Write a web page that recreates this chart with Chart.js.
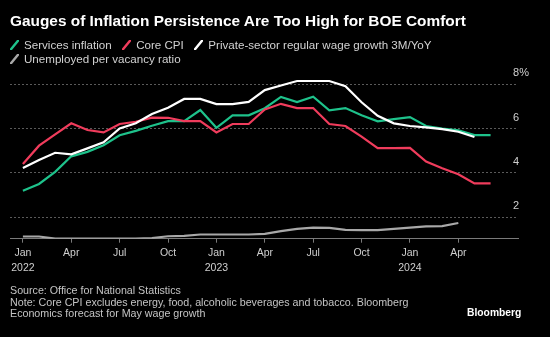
<!DOCTYPE html>
<html>
<head>
<meta charset="utf-8">
<script src="https://cdn.jsdelivr.net/npm/chart.js@4.4.1/dist/chart.umd.min.js"></script>
<style>
html,body{margin:0;padding:0;background:#000;}
#wrap{position:relative;width:550px;height:337px;overflow:hidden;background:#000;font-family:'Liberation Sans',Arial,sans-serif;}
#c{position:absolute;left:0;top:0;}
.title{position:absolute;left:10px;top:11px;font-weight:bold;font-size:15.4px;color:#fff;line-height:19px;white-space:nowrap;}
.legend{position:absolute;left:10px;font-size:11.6px;color:#d2d2d2;white-space:nowrap;display:flex;align-items:center;line-height:14px;}
.item{display:flex;align-items:center;margin-right:10.5px;}
.sw{width:9px;height:10px;margin-right:5px;display:block;}
.foot{position:absolute;left:10px;top:285px;font-size:10.7px;line-height:11.7px;color:#c4c4c4;white-space:nowrap;}
.brand{position:absolute;left:467px;top:307px;font-weight:bold;font-size:10.3px;line-height:12px;color:#fff;}
</style>
</head>
<body>
<div id="wrap">
  <canvas id="c" width="550" height="337"></canvas>
  <div class="title">Gauges of Inflation Persistence Are Too High for BOE Comfort</div>
  <div class="legend" style="top:38px">
    <span class="item"><svg class="sw" viewBox="0 0 9 10"><line x1="1" y1="9.3" x2="8" y2="0.7" stroke="#1ec28b" stroke-width="2.4" stroke-linecap="round"/></svg>Services inflation</span>
    <span class="item"><svg class="sw" viewBox="0 0 9 10"><line x1="1" y1="9.3" x2="8" y2="0.7" stroke="#f03c5c" stroke-width="2.4" stroke-linecap="round"/></svg>Core CPI</span>
    <span class="item"><svg class="sw" viewBox="0 0 9 10"><line x1="1" y1="9.3" x2="8" y2="0.7" stroke="#ffffff" stroke-width="2.4" stroke-linecap="round"/></svg>Private-sector regular wage growth 3M/YoY</span>
  </div>
  <div class="legend" style="top:52.3px">
    <span class="item"><svg class="sw" viewBox="0 0 9 10"><line x1="1" y1="9.3" x2="8" y2="0.7" stroke="#a8a8a8" stroke-width="2.4" stroke-linecap="round"/></svg>Unemployed per vacancy ratio</span>
  </div>
  <div class="foot">Source: Office for National Statistics<br>Note: Core CPI excludes energy, food, alcoholic beverages and tobacco. Bloomberg<br>Economics forecast for May wage growth</div>
  <div class="brand">Bloomberg</div>
</div>
<script>
const months = ['Jan 2022','Feb 2022','Mar 2022','Apr 2022','May 2022','Jun 2022','Jul 2022','Aug 2022','Sep 2022','Oct 2022','Nov 2022','Dec 2022',
  'Jan 2023','Feb 2023','Mar 2023','Apr 2023','May 2023','Jun 2023','Jul 2023','Aug 2023','Sep 2023','Oct 2023','Nov 2023','Dec 2023',
  'Jan 2024','Feb 2024','Mar 2024','Apr 2024','May 2024','Jun 2024'];
const servicesInflation = [3.2, 3.5, 4.05, 4.75, 4.95, 5.25, 5.7, 5.9, 6.13, 6.34, 6.34, 6.84,
  6.04, 6.6, 6.6, 6.92, 7.43, 7.2, 7.44, 6.83, 6.93, 6.6, 6.33, 6.43, 6.52, 6.12, 6.0, 5.92, 5.71, 5.71];
const coreCPI = [4.4, 5.23, 5.74, 6.24, 5.94, 5.83, 6.21, 6.31, 6.5, 6.49, 6.34, 6.34,
  5.83, 6.21, 6.21, 6.87, 7.12, 6.93, 6.93, 6.21, 6.12, 5.64, 5.12, 5.12, 5.13, 4.51, 4.21, 3.94, 3.53, 3.53];
const wageGrowth = [4.22, 4.58, 4.91, 4.84, 5.11, 5.38, 6.01, 6.24, 6.66, 6.94, 7.34, 7.34,
  7.11, 7.11, 7.21, 7.74, 7.95, 8.15, 8.15, 8.15, 7.92, 7.19, 6.58, 6.24, 6.12, 6.06, 5.98, 5.86, 5.62];
const unemployedPerVacancy = [1.13, 1.13, 1.04, 1.03, 1.03, 1.03, 1.03, 1.03, 1.06, 1.14, 1.16, 1.22,
  1.22, 1.22, 1.22, 1.25, 1.37, 1.47, 1.53, 1.52, 1.43, 1.42, 1.42, 1.47, 1.53, 1.59, 1.6, 1.74];
const xTickMonths = [0, 3, 6, 9, 12, 15, 18, 21, 24, 27];
const xTickLabels = [['Jan','2022'],'Apr','Jul','Oct',['Jan','2023'],'Apr','Jul','Oct',['Jan','2024'],'Apr'];
const yTickValues = [2, 4, 6, 8];
const yTickLabels = ['2', '4', '6', '8%'];

const toPoints = arr => arr.map((v, i) => ({x: i, y: v}));
const lineDs = (label, arr, color, order) => ({
  label, data: toPoints(arr), borderColor: color, backgroundColor: color,
  borderWidth: 2.2, pointRadius: 0, tension: 0, fill: false, order
});

new Chart(document.getElementById('c'), {
  type: 'line',
  data: {
    datasets: [
      lineDs('Services inflation', servicesInflation, '#1ec28b', 2),
      lineDs('Core CPI', coreCPI, '#f03c5c', 1),
      lineDs('Private-sector regular wage growth 3M/YoY', wageGrowth, '#ffffff', 0),
      lineDs('Unemployed per vacancy ratio', unemployedPerVacancy, '#a8a8a8', 3)
    ]
  },
  options: {
    responsive: false,
    animation: false,
    layout: {padding: {left: 10, right: 0, top: 77.7, bottom: 58.3}},
    plugins: {legend: {display: false}, tooltip: {enabled: false}},
    scales: {
      x: {
        type: 'linear', position: 'bottom', min: -0.8, max: 30.7,
        afterBuildTicks: s => { s.ticks = xTickMonths.map(v => ({value: v})); },
        afterFit: s => { s.height = 40; },
        ticks: {
          autoSkip: false, maxRotation: 0, padding: 3, color: '#cfcfcf',
          font: {family: 'Liberation Sans', size: 10.5, lineHeight: '15px'},
          callback: v => xTickLabels[xTickMonths.indexOf(v)]
        },
        grid: {drawOnChartArea: false, drawTicks: true, tickLength: 4, color: '#7a7a7a', lineWidth: 1},
        border: {display: true, color: '#7a7a7a', width: 1}
      },
      y: {
        type: 'linear', position: 'right', min: 1.03, max: 8.3,
        afterBuildTicks: s => { s.ticks = yTickValues.map(v => ({value: v})); },
        afterFit: s => { s.width = 32; },
        ticks: {
          mirror: true, padding: 11, labelOffset: -11, crossAlign: 'far', color: '#cfcfcf',
          font: {family: 'Liberation Sans', size: 11},
          callback: v => yTickLabels[yTickValues.indexOf(v)]
        },
        grid: {drawTicks: false, color: '#5a5a5a', lineWidth: 1},
        border: {display: false, dash: [2, 2]}
      }
    }
  }
});
</script>
</body>
</html>
